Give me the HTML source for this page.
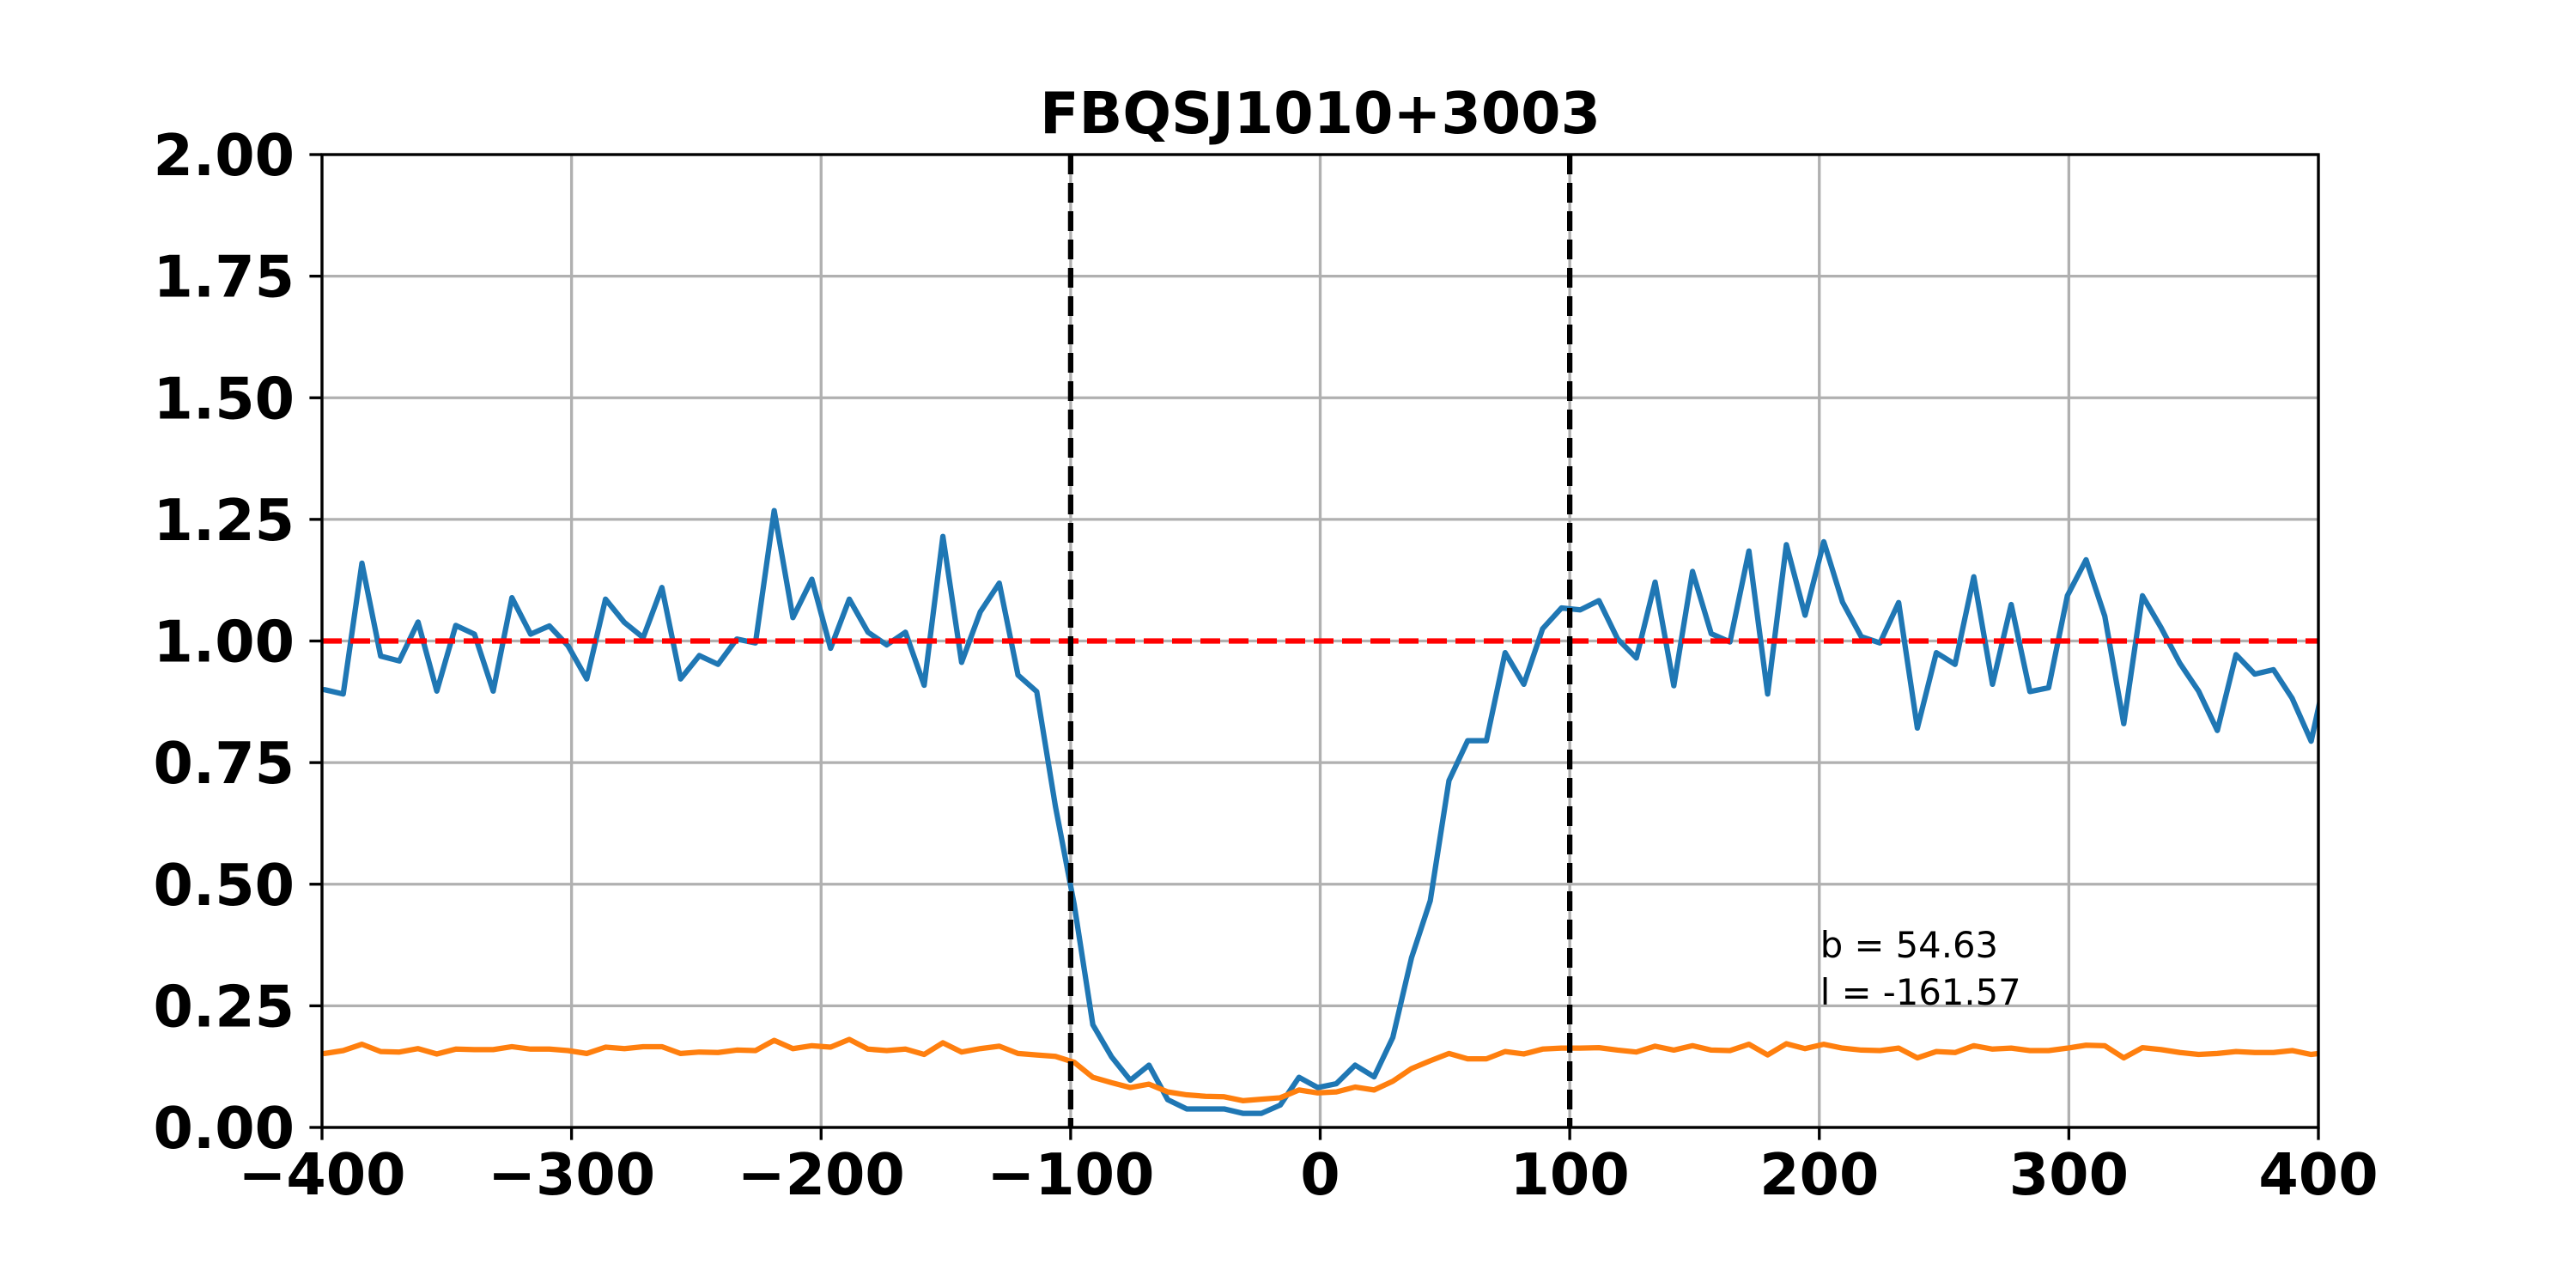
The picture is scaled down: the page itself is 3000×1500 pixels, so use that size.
<!DOCTYPE html>
<html><head><meta charset="utf-8"><style>
html,body{margin:0;padding:0;background:#fff;}
svg{display:block;}
text{font-family:"DejaVu Sans","Liberation Sans",sans-serif;}
</style></head><body>
<svg id="chart" width="3000" height="1500" viewBox="0 0 3000 1500" xmlns="http://www.w3.org/2000/svg">
<rect width="3000" height="1500" fill="#fff"/>
<g id="grid"></g>
<g id="series"></g>
<g id="axes"></g>
</svg>
<script>
const xTicks = [-400,-300,-200,-100,0,100,200,300,400];
const xTickLabels = ["\u2212400","\u2212300","\u2212200","\u2212100","0","100","200","300","400"];
const yTicks = [0,0.25,0.5,0.75,1.0,1.25,1.5,1.75,2.0];
const yTickLabels = ["0.00","0.25","0.50","0.75","1.00","1.25","1.50","1.75","2.00"];
const velocity = [-399.0,-391.5,-384.0,-376.5,-369.0,-361.5,-354.0,-346.4,-338.9,-331.4,-323.9,-316.4,-308.9,-301.4,-293.9,-286.4,-278.8,-271.3,-263.8,-256.3,-248.8,-241.3,-233.8,-226.3,-218.8,-211.3,-203.7,-196.2,-188.7,-181.2,-173.7,-166.2,-158.7,-151.2,-143.7,-136.2,-128.6,-121.1,-113.6,-106.1,-98.6,-91.1,-83.6,-76.1,-68.6,-61.1,-53.5,-46.0,-38.5,-31.0,-23.5,-16.0,-8.5,-1.0,6.5,14.0,21.6,29.1,36.6,44.1,51.6,59.1,66.6,74.1,81.6,89.1,96.7,104.2,111.7,119.2,126.7,134.2,141.7,149.2,156.7,164.2,171.8,179.3,186.8,194.3,201.8,209.3,216.8,224.3,231.8,239.3,246.9,254.4,261.9,269.4,276.9,284.4,291.9,299.4,306.9,314.4,322.0,329.5,337.0,344.5,352.0,359.5,367.0,374.5,382.0,389.5,397.1,404.6];
const flux = [0.90,0.891,1.16,0.969,0.959,1.039,0.897,1.032,1.014,0.897,1.089,1.014,1.031,0.99,0.922,1.086,1.038,1.007,1.11,0.922,0.97,0.952,1.004,0.996,1.268,1.048,1.127,0.985,1.086,1.018,0.992,1.018,0.909,1.215,0.956,1.06,1.119,0.93,0.896,0.66,0.459,0.211,0.145,0.097,0.128,0.057,0.038,0.038,0.038,0.029,0.029,0.046,0.103,0.082,0.09,0.128,0.104,0.185,0.349,0.466,0.713,0.795,0.795,0.976,0.911,1.025,1.068,1.064,1.083,1.004,0.965,1.121,0.908,1.143,1.015,0.998,1.185,0.891,1.198,1.053,1.204,1.08,1.009,0.996,1.079,0.821,0.976,0.952,1.132,0.911,1.075,0.896,0.904,1.093,1.167,1.051,0.83,1.093,1.027,0.954,0.897,0.816,0.972,0.932,0.941,0.882,0.794,0.97];
const fluxError = [0.152,0.158,0.171,0.156,0.155,0.162,0.151,0.161,0.16,0.16,0.166,0.161,0.161,0.158,0.152,0.165,0.162,0.166,0.166,0.152,0.155,0.154,0.159,0.158,0.179,0.162,0.168,0.165,0.181,0.161,0.158,0.161,0.15,0.174,0.155,0.162,0.167,0.152,0.149,0.146,0.134,0.103,0.092,0.082,0.089,0.073,0.067,0.064,0.063,0.055,0.058,0.061,0.077,0.071,0.073,0.083,0.077,0.095,0.121,0.137,0.152,0.141,0.141,0.156,0.151,0.161,0.163,0.163,0.164,0.159,0.155,0.167,0.159,0.168,0.159,0.158,0.171,0.149,0.172,0.162,0.171,0.163,0.159,0.158,0.163,0.143,0.156,0.154,0.168,0.161,0.163,0.158,0.158,0.163,0.169,0.168,0.143,0.164,0.16,0.154,0.15,0.152,0.156,0.154,0.154,0.158,0.15,0.155];
const continuumLevel = [1.0];
const windowEdges = [-100,100];
const titleText = "FBQSJ1010+3003";
const annotationLines = ["b = 54.63","l = -161.57"];
const annotationPos = [200, 0.35];

const L=375,R=2700,T=180,B=1313,X0=-400,X1=400,Y0=0,Y1=2;
const NS="http://www.w3.org/2000/svg";
function sx(v){return L+(v-X0)/(X1-X0)*(R-L);}
function sy(v){return B-(v-Y0)/(Y1-Y0)*(B-T);}
function mk(tag,attrs,parent){const e=document.createElementNS(NS,tag);for(const k in attrs)e.setAttribute(k,attrs[k]);parent.appendChild(e);return e;}
const grid=document.getElementById('grid'),series=document.getElementById('series'),axes=document.getElementById('axes');
const svg=document.getElementById('chart');
const defs=mk('defs',{},svg);
const cp=mk('clipPath',{id:'plotclip'},defs);
mk('rect',{x:L,y:T,width:R-L,height:B-T},cp);
series.setAttribute('clip-path','url(#plotclip)');

xTicks.forEach((v,i)=>{
  const g=mk('line',{x1:sx(v),x2:sx(v),y1:T,y2:B,stroke:'#b0b0b0','stroke-width':3.33},grid);
  
  
  const t=mk('line',{x1:sx(v),x2:sx(v),y1:B,y2:B+14.6,stroke:'#000','stroke-width':3.33},axes);
  
  
  const lb=mk('text',{x:sx(v),y:B+78,'text-anchor':'middle','font-size':66.7,'font-weight':'bold',fill:'#000'},axes);
  lb.textContent=xTickLabels[i];
  
  
});
yTicks.forEach((v,i)=>{
  const g=mk('line',{x1:L,x2:R,y1:sy(v),y2:sy(v),stroke:'#b0b0b0','stroke-width':3.33},grid);
  
  
  const t=mk('line',{x1:L-14.6,x2:L,y1:sy(v),y2:sy(v),stroke:'#000','stroke-width':3.33},axes);
  
  
  const lb=mk('text',{x:343,y:sy(v)+24,'text-anchor':'end','font-size':66.7,'font-weight':'bold',fill:'#000'},axes);
  lb.textContent=yTickLabels[i];
  
  
});

const fl=mk('polyline',{points:velocity.map((v,i)=>sx(v)+','+sy(flux[i])).join(' '),fill:'none',stroke:'#1f77b4','stroke-width':6.25,'stroke-linejoin':'round','stroke-linecap':'round'},series);


const el=mk('polyline',{points:velocity.map((v,i)=>sx(v)+','+sy(fluxError[i])).join(' '),fill:'none',stroke:'#ff7f0e','stroke-width':6.25,'stroke-linejoin':'round','stroke-linecap':'round'},series);


continuumLevel.forEach(c=>{
  const d=mk('line',{x1:L,x2:R,y1:sy(c),y2:sy(c),stroke:'#ff0000','stroke-width':6.25,'stroke-dasharray':'23 10'},series);
  
  
});
windowEdges.forEach(w=>{
  const d=mk('line',{x1:sx(w),x2:sx(w),y1:T,y2:B,stroke:'#000','stroke-width':6.25,'stroke-dasharray':'23 10'},series);
  
  
});

const fr=mk('rect',{x:L,y:T,width:R-L,height:B-T,fill:'none',stroke:'#000','stroke-width':3.33},axes);



const ti=mk('text',{x:(L+R)/2,y:155,'text-anchor':'middle','font-size':66.7,'font-weight':'bold',fill:'#000'},axes);
ti.textContent=titleText;



annotationLines.forEach((s,i)=>{
  const a=mk('text',{x:sx(annotationPos[0])+1,y:1115+i*55,'font-size':41.7,fill:'#000'},axes);
  a.textContent=s;
  
  
});
</script>
</body></html>
